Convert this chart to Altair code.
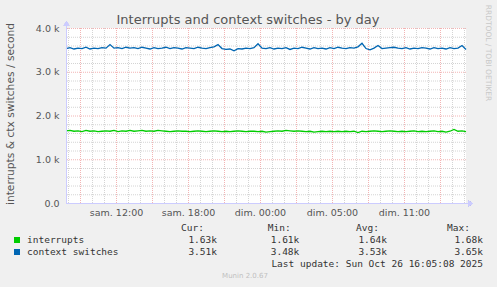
import altair as alt
import pandas as pd

# ---- data (20-minute samples) ----
interrupts = [
    1.65, 1.66, 1.64, 1.65, 1.63, 1.66, 1.64, 1.65, 1.63, 1.64,
    1.65, 1.64, 1.66, 1.63, 1.65, 1.64, 1.66, 1.64, 1.65, 1.66,
    1.64, 1.65, 1.64, 1.66, 1.65, 1.64, 1.63, 1.64, 1.65, 1.64,
    1.64, 1.63, 1.64, 1.65, 1.64, 1.63, 1.64, 1.65, 1.64, 1.63,
    1.64, 1.63, 1.64, 1.65, 1.64, 1.63, 1.64, 1.64, 1.63, 1.64,
    1.62, 1.63, 1.64, 1.65, 1.64, 1.66, 1.65, 1.64, 1.65, 1.64,
    1.63, 1.64, 1.62, 1.63, 1.64, 1.63, 1.64, 1.63, 1.64, 1.63,
    1.64, 1.63, 1.64, 1.61, 1.64, 1.63, 1.64, 1.65, 1.64, 1.63,
    1.64, 1.65, 1.64, 1.63, 1.64, 1.63, 1.64, 1.65, 1.63, 1.64,
    1.63, 1.64, 1.65, 1.63, 1.64, 1.62, 1.64, 1.68, 1.64, 1.65,
    1.63,
]
context_switches = [
    3.53, 3.55, 3.52, 3.54, 3.53, 3.56, 3.52, 3.54, 3.53, 3.55,
    3.54, 3.62, 3.54, 3.55, 3.53, 3.56, 3.54, 3.55, 3.53, 3.56,
    3.54, 3.52, 3.55, 3.53, 3.54, 3.56, 3.53, 3.55, 3.54, 3.52,
    3.55, 3.54, 3.53, 3.56, 3.54, 3.53, 3.55, 3.57, 3.62, 3.53,
    3.51, 3.52, 3.48, 3.53, 3.52, 3.54, 3.53, 3.55, 3.64, 3.54,
    3.53, 3.55, 3.52, 3.54, 3.53, 3.55, 3.51, 3.54, 3.53, 3.56,
    3.54, 3.52, 3.55, 3.53, 3.54, 3.52, 3.55, 3.53, 3.56, 3.54,
    3.53, 3.55, 3.54, 3.57, 3.65, 3.53, 3.50, 3.54, 3.60, 3.53,
    3.54, 3.55, 3.56, 3.54, 3.53, 3.55, 3.52, 3.54, 3.53, 3.55,
    3.54, 3.52, 3.55, 3.53, 3.54, 3.52, 3.55, 3.53, 3.54, 3.60,
    3.51,
]
series_names = ["interrupts", "context switches"]
series_colors = ["#00CC00", "#0066B3"]
sample_minutes = 20

x_label_hours = [50 / 12, 122 / 12, 194 / 12, 266 / 12, 338 / 12]
x_label_text = ["sam. 12:00", "sam. 18:00", "dim. 00:00", "dim. 05:00", "dim. 11:00"]
y_tick_values = [0, 1000, 2000, 3000, 4000]
y_tick_text = ["0.0", "1.0 k", "2.0 k", "3.0 k", "4.0 k"]

cur_vals = ["1.63k", "3.51k"]
min_vals = ["1.61k", "3.48k"]
avg_vals = ["1.64k", "3.53k"]
max_vals = ["1.68k", "3.65k"]

# ---- tables ----
rows = []
for name, vals in zip(series_names, [interrupts, context_switches]):
    for i, v in enumerate(vals):
        rows.append({"t": i * sample_minutes / 60, "v": v * 1000, "series": name})
df = pd.DataFrame(rows)

minor_x = pd.DataFrame({"t": [2 / 12 + k for k in range(34)]})
major_x = pd.DataFrame({"t": [14 / 12 + 3 * k for k in range(11)]})
minor_y = pd.DataFrame({"v": [200 * k for k in range(1, 20) if k % 5]})
major_y = pd.DataFrame({"v": [1000, 2000, 3000, 4000]})
xlab = pd.DataFrame({"t": x_label_hours, "lab": x_label_text})
ylab = pd.DataFrame({"v": y_tick_values, "lab": y_tick_text})

X_DOMAIN = [0, 400 / 12]
xs = alt.Scale(domain=X_DOMAIN)
ys = alt.Scale(domain=[0, 4000])
MINOR = "#D4D4D4"
MAJOR = "#F2B4B4"
AXISC = "#CCCCFF"
TXT = "#555555"
LEG = "#333333"
FONT = "DejaVu Sans"
MONO = "DejaVu Sans Mono"
S = 0.5  # shift of text because origin is at integer padding

gx_minor = alt.Chart(minor_x).mark_rule(color=MINOR, strokeWidth=1, strokeDash=[1, 1], xOffset=0.5).encode(
    x=alt.X("t:Q", scale=xs, axis=None))
gy_minor = alt.Chart(minor_y).mark_rule(color=MINOR, strokeWidth=1, strokeDash=[1, 1], yOffset=0.5).encode(
    y=alt.Y("v:Q", scale=ys, axis=None))
gx_major = alt.Chart(major_x).mark_rule(color=MAJOR, strokeWidth=1, strokeDash=[1, 1], xOffset=0.5).encode(
    x=alt.X("t:Q", scale=xs, axis=None))
gy_major = alt.Chart(major_y).mark_rule(color=MAJOR, strokeWidth=1, strokeDash=[1, 1], yOffset=0.5).encode(
    y=alt.Y("v:Q", scale=ys, axis=None))

lines = alt.Chart(df).mark_line(strokeWidth=1.3, interpolate="linear").encode(
    x=alt.X("t:Q", scale=xs, axis=None),
    y=alt.Y("v:Q", scale=ys, axis=None),
    color=alt.Color("series:N", scale=alt.Scale(domain=series_names, range=series_colors), legend=None),
    detail="series:N",
)

yaxis_line = alt.Chart(df).mark_rule(color=AXISC, strokeWidth=1).encode(
    x=alt.value(0.5), y=alt.value(-4.5), y2=alt.value(175.5))
xaxis_line = alt.Chart(df).mark_rule(color=AXISC, strokeWidth=1).encode(
    x=alt.value(0.5), x2=alt.value(404.5), y=alt.value(175.5))
arrow_up = alt.Chart(df).mark_point(shape="triangle-up", filled=True, color=AXISC, size=30, opacity=1).encode(
    x=alt.value(0.5), y=alt.value(-4.5))
arrow_right = alt.Chart(df).mark_point(shape="triangle-right", filled=True, color=AXISC, size=30, opacity=1).encode(
    x=alt.value(404.5), y=alt.value(175.5))

xlabels = alt.Chart(xlab).mark_text(font=FONT, fontSize=9.5, color=TXT, baseline="middle", align="center",
                                    xOffset=0.5).encode(
    x=alt.X("t:Q", scale=xs, axis=None), y=alt.value(184 + S), text="lab:N")
ylabels = alt.Chart(ylab).mark_text(font=FONT, fontSize=9.5, color=TXT, baseline="middle", align="right",
                                    yOffset=0.5).encode(
    x=alt.value(-7 + S), y=alt.Y("v:Q", scale=ys, axis=None), text="lab:N")


def txt(s, x, y, font=FONT, size=9.5, color=TXT, align="left", angle=0, baseline="middle"):
    return alt.Chart(pd.DataFrame({"s": [s]})).mark_text(
        font=font, fontSize=size, color=color, align=align, angle=angle, baseline=baseline
    ).encode(x=alt.value(x + S), y=alt.value(y + S), text="s:N")


title = txt("Interrupts and context switches - by day", 181.5, -4.5, size=13, color=TXT,
            align="center", baseline="alphabetic")
ytitle = txt("interrupts & ctx switches / second", -55.5, 85.5, size=10.7, align="center", angle=270)
rrd = txt("RRDTOOL / TOBI OETIKER", 421, 24.5, size=7.5, color="#C8C8C8", align="center", angle=90)
munin = txt("Munin 2.0.67", 178.5, 247.5, size=7, color="#C0C0C0", align="center")

legend_layers = []
for i, name in enumerate(series_names):
    yy = 211.5 + 12 * i
    legend_layers.append(
        alt.Chart(pd.DataFrame({"s": [name]})).mark_square(size=36, color=series_colors[i], opacity=1).encode(
            x=alt.value(-49.5 + S), y=alt.value(yy + S)))
    legend_layers.append(txt(name, -39.5, yy, font=MONO, color=LEG))
    legend_layers.append(txt(cur_vals[i], 150.5, yy, font=MONO, color=LEG, align="right"))
    legend_layers.append(txt(min_vals[i], 232.8, yy, font=MONO, color=LEG, align="right"))
    legend_layers.append(txt(avg_vals[i], 320.5, yy, font=MONO, color=LEG, align="right"))
    legend_layers.append(txt(max_vals[i], 416.5, yy, font=MONO, color=LEG, align="right"))

headers = [
    txt("Cur:", 137.5, 199.5, font=MONO, color=LEG, align="right"),
    txt("Min:", 224.2, 199.5, font=MONO, color=LEG, align="right"),
    txt("Avg:", 312.5, 199.5, font=MONO, color=LEG, align="right"),
    txt("Max:", 403.5, 199.5, font=MONO, color=LEG, align="right"),
    txt("Last update: Sun Oct 26 16:05:08 2025", 416.5, 235.5, font=MONO, color=LEG, align="right"),
]

chart = alt.layer(
    gx_minor, gy_minor, gx_major, gy_major, lines,
    yaxis_line, xaxis_line, arrow_up, arrow_right,
    xlabels, ylabels, title, ytitle, rrd, munin,
    *legend_layers, *headers,
).properties(
    width=400, height=175,
    padding={"left": 66, "top": 28, "right": 31, "bottom": 84},
    autosize=alt.AutoSizeParams(type="none"),
).configure(background="#F0F0F0").configure_view(fill="white", stroke=None)

chart.save("out.html", embed_options={"renderer": "svg", "actions": False})
